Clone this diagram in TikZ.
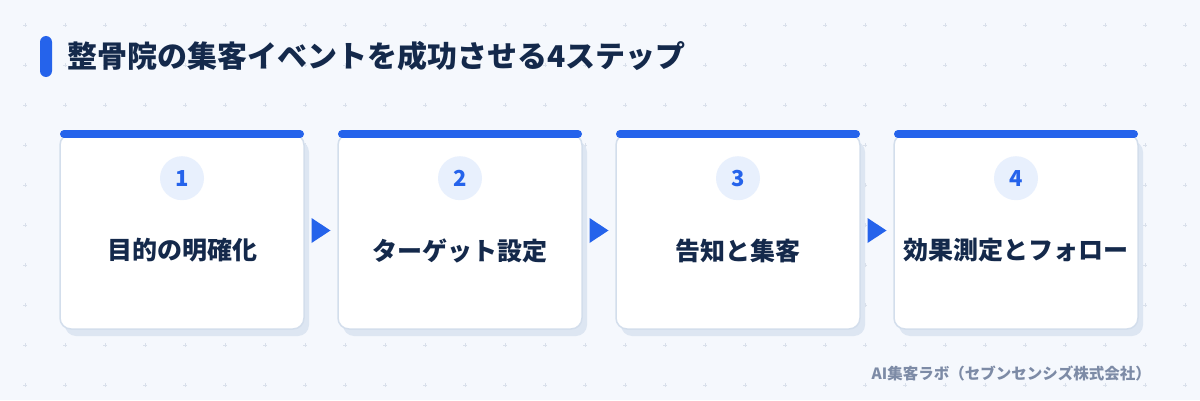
\documentclass[tikz,border=0pt]{standalone}
\usepackage{fontspec}
\setmainfont{Noto Sans CJK JP}
\usetikzlibrary{calc,positioning,shadows}

\definecolor{bgcolor}{HTML}{F5F8FD}
\definecolor{plusmark}{HTML}{D9E0EB}
\definecolor{stepblue}{HTML}{2563EB}
\definecolor{navy}{HTML}{14294B}
\definecolor{numfill}{HTML}{E8F0FD}
\definecolor{cardline}{HTML}{D3DEEC}
\definecolor{cardshadow}{HTML}{DDE6F2}
\definecolor{footgray}{HTML}{7D8BA6}

\begin{document}
\begin{tikzpicture}[x=1pt, y=1pt,
    card/.style={draw=cardline, line width=1.5pt, fill=white, rounded corners=11pt,
      minimum width=244pt, minimum height=195pt, outer sep=0pt,
      drop shadow={shadow xshift=5pt, shadow yshift=-7pt, fill=cardshadow, opacity=1}},
    topbar/.style={draw=stepblue, line width=8pt, line cap=round},
    num/.style={circle, fill=numfill, minimum size=44pt, inner sep=0pt, text=stepblue,
      font=\bfseries\fontsize{22}{22}\selectfont},
    steptext/.style={text=navy, font=\bfseries\fontsize{25}{30}\selectfont},
    tip/.style={fill=stepblue}]

    % background with plus marks
    \fill[bgcolor] (0,0) rectangle (1200,400);
    \useasboundingbox (0,0) rectangle (1200,400);
    \foreach \i in {0,...,29}
      \foreach \j in {0,...,9}
        \draw[plusmark, line width=0.8pt] (25+40*\i,15+40*\j) ++(-2,0) -- ++(4,0) ++(-2,-2) -- ++(0,4);

    % title
    \node[fill=stepblue, rounded corners=6pt, minimum width=12pt, minimum height=41pt, inner sep=0pt] (bar) at (46,343.5) {};
    \node[right=15pt of bar, inner sep=0pt, text=navy, font=\bfseries\fontsize{30}{34}\selectfont] (title) {整骨院の集客イベントを成功させる4ステップ};

    % cards
    \node[card] (c1) at (182,168.5) {};
    \node[card, right=34pt of c1] (c2) {};
    \node[card, right=34pt of c2] (c3) {};
    \node[card, right=34pt of c3] (c4) {};

    \foreach \c in {c1,c2,c3,c4}
      \draw[topbar] ([xshift=4pt]\c.north west) -- ([xshift=-4pt]\c.north east);

    \node[num, below=22pt of c1.north] (n1) {1};
    \node[num, below=22pt of c2.north] (n2) {2};
    \node[num, below=22pt of c3.north] (n3) {3};
    \node[num, below=22pt of c4.north] (n4) {4};

    \node[steptext] (s1) at ([yshift=-19pt]c1.center) {目的の明確化};
    \node[steptext] (s2) at ([yshift=-19pt]c2.center) {ターゲット設定};
    \node[steptext] (s3) at ([yshift=-19pt]c3.center) {告知と集客};
    \node[steptext] (s4) at ([yshift=-19pt]c4.center) {効果測定とフォロー};

    % arrows between cards
    \foreach \a/\b in {c1/c2,c2/c3,c3/c4} {
      \coordinate (m) at ($(\a.east)!0.5!(\b.west)$);
      \fill[tip] ([shift={(-9.5,13.5)}]m) -- ([shift={(9.5,1)}]m) -- ([shift={(-9.5,-11.5)}]m) -- cycle;
    }

    % credit
    \node[anchor=east, inner sep=0pt, text=footgray, font=\bfseries\fontsize{15.5}{18}\selectfont] (credit) at (1151,27) {AI集客ラボ（セブンセンシズ株式会社）};
\end{tikzpicture}
\end{document}
